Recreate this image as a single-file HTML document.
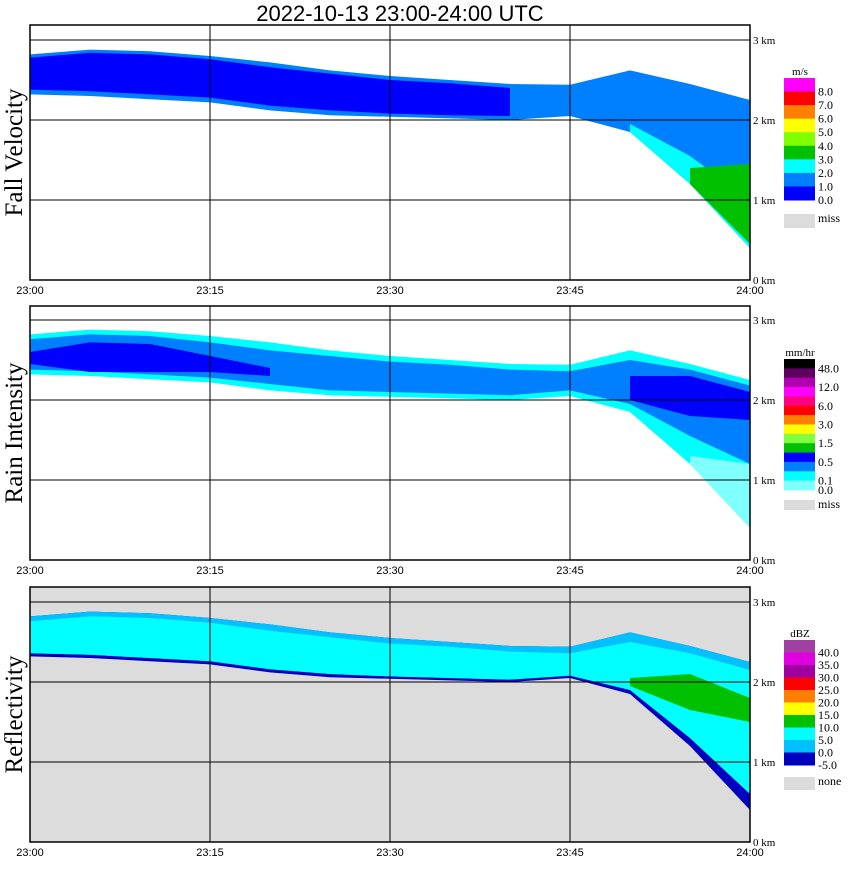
<!DOCTYPE html>
<html><head><meta charset="utf-8">
<style>
body{margin:0;background:#fff;width:850px;height:868px;overflow:hidden}
svg text{font-family:"Liberation Serif",serif}
</style></head>
<body>
<svg id="chart" width="850" height="868" xmlns="http://www.w3.org/2000/svg">
<text x="400" y="21" text-anchor="middle" font-size="22" style="font-family:'Liberation Sans',sans-serif">2022-10-13   23:00-24:00 UTC</text>
<g id="panels"></g>
</svg>
<script>
// time axis (minutes after 23:00)
const times = [0,5,10,15,20,25,30,35,40,45,50,55,60];
const timeLabels = ["23:00","23:15","23:30","23:45","24:00"];
const heightTicks = [0,1,2,3];
// echo top / bottom heights (km)
const echoTop    = [2.82,2.88,2.86,2.80,2.72,2.62,2.55,2.50,2.45,2.44,2.62,2.45,2.25];
const echoBottom = [2.32,2.30,2.26,2.22,2.12,2.06,2.04,2.02,2.00,2.05,1.85,1.20,0.40];
// fall velocity layers
const fvCoreTop  = [2.78,2.84,2.82,2.76,2.66,2.58,2.50,2.46,2.40,null,null,null,null];
const fvCoreBot  = [2.38,2.36,2.32,2.28,2.18,2.12,2.08,2.06,2.05,null,null,null,null];
const fvCyanTop  = [null,null,null,null,null,null,null,null,null,null,1.95,1.55,1.00];
const fvGreenTop = [null,null,null,null,null,null,null,null,null,null,null,1.40,1.45];
const fvGreenBot = [null,null,null,null,null,null,null,null,null,null,null,1.20,0.45];
// rain intensity layers
const riMidTop   = [2.76,2.82,2.80,2.72,2.62,2.55,2.48,2.44,2.38,2.36,2.50,2.38,2.18];
const riMidBot   = [2.38,2.36,2.32,2.28,2.20,2.12,2.10,2.08,2.06,2.12,1.95,1.55,1.20];
const riCoreTop  = [2.60,2.72,2.70,2.55,2.40,null,null,null,null,null,2.30,2.30,2.10];
const riCoreBot  = [2.45,2.35,2.35,2.35,2.30,null,null,null,null,null,2.00,1.80,1.75];
const riLightTop = [null,null,null,null,null,null,null,null,null,null,null,1.30,1.20];
// reflectivity layers
const zCyanTop   = [2.76,2.82,2.80,2.74,2.64,2.56,2.48,2.44,2.38,2.36,2.50,2.36,2.15];
const zCyanBot   = [2.36,2.34,2.30,2.26,2.16,2.10,2.07,2.05,2.03,2.08,1.90,1.30,0.60];
const zGreenTop  = [null,null,null,null,null,null,null,null,null,null,2.05,2.10,1.80];
const zGreenBot  = [null,null,null,null,null,null,null,null,null,null,1.95,1.65,1.50];

const X0=30, X1=750, T1=60;
const xs = t => X0 + (X1-X0)*t/T1;
const panels = [
 {name:'fall-velocity', title:'Fall Velocity', top:25, zero:280, bg:'#fff',
  legendTitle:'m/s', legendTop:78, legendH:122,
  colors:['#ff00ff','#ff0000','#ff8000','#ffff00','#80ff00','#00c000','#00ffff','#0080ff','#0000ff'],
  labels:['8.0','7.0','6.0','5.0','4.0','3.0','2.0','1.0','0.0'], miss:'miss', missY:214, missH:14,
  layers:[['#0080ff',echoTop,echoBottom],['#0000ff',fvCoreTop,fvCoreBot],['#00ffff',fvCyanTop,echoBottom],['#00c000',fvGreenTop,fvGreenBot]]},
 {name:'rain-intensity', title:'Rain Intensity', top:306, zero:560, bg:'#fff',
  legendTitle:'mm/hr', legendTop:359, legendH:131,
  colors:['#000000','#600060','#b000b0','#ff00ff','#ff0080','#ff0000','#ff8000','#ffff00','#80ff40','#00c000','#0000ff','#0080ff','#00ffff','#80ffff'],
  labels:['48.0','','12.0','','6.0','','3.0','','1.5','','0.5','','0.1','0.0'], miss:'miss', missY:500, missH:10,
  layers:[['#00ffff',echoTop,echoBottom],['#0080ff',riMidTop,riMidBot],['#0000ff',riCoreTop,riCoreBot],['#80ffff',riLightTop,echoBottom]]},
 {name:'reflectivity', title:'Reflectivity', top:587, zero:842, bg:'#dcdcdc',
  legendTitle:'dBZ', legendTop:640, legendH:125,
  colors:['#a040a0','#e000e0','#a000a0','#ff0000','#ff8000','#ffff00','#00c000','#00ffff','#00c0ff','#0000c0'],
  labels:['40.0','35.0','30.0','25.0','20.0','15.0','10.0','5.0','0.0','-5.0'], miss:'none', missY:777, missH:13,
  layers:[['#0000c0',echoTop,echoBottom],['#00c0ff',echoTop,zCyanBot],['#00ffff',zCyanTop,zCyanBot],['#00c000',zGreenTop,zGreenBot]]}
];
const NS='http://www.w3.org/2000/svg';
const root=document.getElementById('panels');
function mk(tag,attrs,parent){const e=document.createElementNS(NS,tag);for(const k in attrs)e.setAttribute(k,attrs[k]);parent.appendChild(e);return e;}
panels.forEach(p=>{
  const g=mk('g',{},root);
  
  
  const ys = km => p.zero - 80*km;
  const bg=mk('rect',{x:X0,y:p.top,width:X1-X0,height:p.zero-p.top,fill:p.bg},g);
  
  
  p.layers.forEach(([col,tA,bA])=>{
    let seg=[];
    const flush=()=>{ if(seg.length>1){
        const pts=seg.map(i=>xs(times[i])+','+ys(tA[i])).concat(seg.slice().reverse().map(i=>xs(times[i])+','+ys(bA[i])));
        const poly=mk('polygon',{points:pts.join(' '),fill:col},g);
        
        
      } seg=[]; };
    times.forEach((t,i)=>{ if(tA[i]!=null&&bA[i]!=null) seg.push(i); else flush(); });
    flush();
  });
  heightTicks.forEach(h=>{
    if(h>0){const l=mk('line',{x1:X0,x2:X1,y1:ys(h),y2:ys(h),stroke:'#000','stroke-width':1},g);
      
      }
    const tx=mk('text',{x:753,y:ys(h)+4,'font-size':11},g); tx.textContent=h+' km';
    
    
  });
  timeLabels.forEach((lab,i)=>{
    const x=xs(i*15);
    if(i>0&&i<4){const l=mk('line',{x1:x,x2:x,y1:p.top,y2:p.zero,stroke:'#000'},g);
      
      }
    const tx=mk('text',{x:x,y:p.zero+14,'font-size':11,'text-anchor':'middle',style:"font-family:'Liberation Sans',sans-serif"},g); tx.textContent=lab;
    
    
  });
  const fr=mk('rect',{x:X0,y:p.top,width:X1-X0,height:p.zero-p.top,fill:'none',stroke:'#000','stroke-width':1.5},g);
  
  
  const ttl=mk('text',{transform:`translate(22,${(p.top+p.zero)/2}) rotate(-90)`,'font-size':25,'text-anchor':'middle'},g);
  ttl.textContent=p.title;
  
  
  const lg=mk('g',{},g);
  
  
  const lt=mk('text',{x:800,y:p.legendTop-3,'font-size':11,'text-anchor':'middle'},lg); lt.textContent=p.legendTitle;
  const ch=p.legendH/p.colors.length;
  p.colors.forEach((c,i)=>{
    mk('rect',{x:784,y:p.legendTop+i*ch,width:31,height:ch+0.5,fill:c},lg);
    if(p.labels[i]){const t=mk('text',{x:818,y:p.legendTop+(i+1)*ch+4,'font-size':12},lg); t.textContent=p.labels[i];}
  });
  mk('rect',{x:784,y:p.missY,width:31,height:p.missH,fill:'#dcdcdc'},lg);
  const mt=mk('text',{x:818,y:p.missY+8,'font-size':12},lg); mt.textContent=p.miss;
});
</script>
</body></html>
